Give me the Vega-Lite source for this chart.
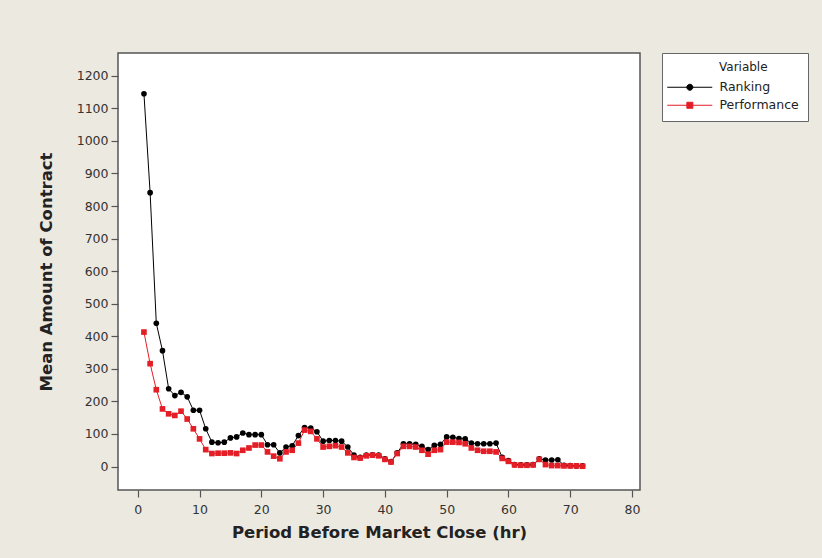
{
  "$schema": "https://vega.github.io/schema/vega-lite/v6.json",
  "width": 522,
  "height": 437,
  "autosize": {"type": "none"},
  "padding": {"left": 118, "top": 53, "right": 182, "bottom": 68},
  "background": "#ECE9E0",
  "config": {
    "view": {"fill": "white", "stroke": "#555555", "strokeWidth": 1.5},
    "axis": {
      "grid": false,
      "domain": false,
      "tickColor": "#555555",
      "tickSize": 7,
      "tickWidth": 1.2,
      "labelFont": "DejaVu Sans",
      "labelFontSize": 12.5,
      "labelColor": "#333333",
      "titleFont": "DejaVu Sans",
      "titleFontSize": 16.5,
      "titleFontWeight": "bold",
      "titleColor": "#222222"
    }
  },
  "data": {"values": [
    {"hour":1,"variable":"Ranking","amount":1145},{"hour":2,"variable":"Ranking","amount":841},{"hour":3,"variable":"Ranking","amount":440},{"hour":4,"variable":"Ranking","amount":356},{"hour":5,"variable":"Ranking","amount":239},{"hour":6,"variable":"Ranking","amount":218},{"hour":7,"variable":"Ranking","amount":228},{"hour":8,"variable":"Ranking","amount":214},{"hour":9,"variable":"Ranking","amount":173},{"hour":10,"variable":"Ranking","amount":173},
    {"hour":11,"variable":"Ranking","amount":116},{"hour":12,"variable":"Ranking","amount":75},{"hour":13,"variable":"Ranking","amount":73},{"hour":14,"variable":"Ranking","amount":75},{"hour":15,"variable":"Ranking","amount":88},{"hour":16,"variable":"Ranking","amount":91},{"hour":17,"variable":"Ranking","amount":103},{"hour":18,"variable":"Ranking","amount":98},{"hour":19,"variable":"Ranking","amount":98},{"hour":20,"variable":"Ranking","amount":98},
    {"hour":21,"variable":"Ranking","amount":67},{"hour":22,"variable":"Ranking","amount":67},{"hour":23,"variable":"Ranking","amount":42},{"hour":24,"variable":"Ranking","amount":60},{"hour":25,"variable":"Ranking","amount":64},{"hour":26,"variable":"Ranking","amount":95},{"hour":27,"variable":"Ranking","amount":120},{"hour":28,"variable":"Ranking","amount":118},{"hour":29,"variable":"Ranking","amount":107},{"hour":30,"variable":"Ranking","amount":78},
    {"hour":31,"variable":"Ranking","amount":80},{"hour":32,"variable":"Ranking","amount":80},{"hour":33,"variable":"Ranking","amount":78},{"hour":34,"variable":"Ranking","amount":60},{"hour":35,"variable":"Ranking","amount":35},{"hour":36,"variable":"Ranking","amount":28},{"hour":37,"variable":"Ranking","amount":35},{"hour":38,"variable":"Ranking","amount":36},{"hour":39,"variable":"Ranking","amount":35},{"hour":40,"variable":"Ranking","amount":24},
    {"hour":41,"variable":"Ranking","amount":15},{"hour":42,"variable":"Ranking","amount":42},{"hour":43,"variable":"Ranking","amount":70},{"hour":44,"variable":"Ranking","amount":70},{"hour":45,"variable":"Ranking","amount":68},{"hour":46,"variable":"Ranking","amount":62},{"hour":47,"variable":"Ranking","amount":52},{"hour":48,"variable":"Ranking","amount":65},{"hour":49,"variable":"Ranking","amount":68},{"hour":50,"variable":"Ranking","amount":91},
    {"hour":51,"variable":"Ranking","amount":90},{"hour":52,"variable":"Ranking","amount":86},{"hour":53,"variable":"Ranking","amount":85},{"hour":54,"variable":"Ranking","amount":72},{"hour":55,"variable":"Ranking","amount":70},{"hour":56,"variable":"Ranking","amount":70},{"hour":57,"variable":"Ranking","amount":70},{"hour":58,"variable":"Ranking","amount":72},{"hour":59,"variable":"Ranking","amount":28},{"hour":60,"variable":"Ranking","amount":18},
    {"hour":61,"variable":"Ranking","amount":6},{"hour":62,"variable":"Ranking","amount":5},{"hour":63,"variable":"Ranking","amount":5},{"hour":64,"variable":"Ranking","amount":6},{"hour":65,"variable":"Ranking","amount":24},{"hour":66,"variable":"Ranking","amount":20},{"hour":67,"variable":"Ranking","amount":20},{"hour":68,"variable":"Ranking","amount":21},{"hour":69,"variable":"Ranking","amount":4},{"hour":70,"variable":"Ranking","amount":3},
    {"hour":71,"variable":"Ranking","amount":2},{"hour":72,"variable":"Ranking","amount":2},
    {"hour":1,"variable":"Performance","amount":413},{"hour":2,"variable":"Performance","amount":316},{"hour":3,"variable":"Performance","amount":236},{"hour":4,"variable":"Performance","amount":177},{"hour":5,"variable":"Performance","amount":162},{"hour":6,"variable":"Performance","amount":157},{"hour":7,"variable":"Performance","amount":170},{"hour":8,"variable":"Performance","amount":146},{"hour":9,"variable":"Performance","amount":116},{"hour":10,"variable":"Performance","amount":85},
    {"hour":11,"variable":"Performance","amount":52},{"hour":12,"variable":"Performance","amount":40},{"hour":13,"variable":"Performance","amount":41},{"hour":14,"variable":"Performance","amount":41},{"hour":15,"variable":"Performance","amount":42},{"hour":16,"variable":"Performance","amount":40},{"hour":17,"variable":"Performance","amount":50},{"hour":18,"variable":"Performance","amount":57},{"hour":19,"variable":"Performance","amount":66},{"hour":20,"variable":"Performance","amount":66},
    {"hour":21,"variable":"Performance","amount":45},{"hour":22,"variable":"Performance","amount":32},{"hour":23,"variable":"Performance","amount":24},{"hour":24,"variable":"Performance","amount":45},{"hour":25,"variable":"Performance","amount":50},{"hour":26,"variable":"Performance","amount":72},{"hour":27,"variable":"Performance","amount":112},{"hour":28,"variable":"Performance","amount":108},{"hour":29,"variable":"Performance","amount":85},{"hour":30,"variable":"Performance","amount":60},
    {"hour":31,"variable":"Performance","amount":62},{"hour":32,"variable":"Performance","amount":64},{"hour":33,"variable":"Performance","amount":60},{"hour":34,"variable":"Performance","amount":42},{"hour":35,"variable":"Performance","amount":28},{"hour":36,"variable":"Performance","amount":26},{"hour":37,"variable":"Performance","amount":33},{"hour":38,"variable":"Performance","amount":35},{"hour":39,"variable":"Performance","amount":33},{"hour":40,"variable":"Performance","amount":22},
    {"hour":41,"variable":"Performance","amount":14},{"hour":42,"variable":"Performance","amount":40},{"hour":43,"variable":"Performance","amount":62},{"hour":44,"variable":"Performance","amount":62},{"hour":45,"variable":"Performance","amount":60},{"hour":46,"variable":"Performance","amount":50},{"hour":47,"variable":"Performance","amount":38},{"hour":48,"variable":"Performance","amount":50},{"hour":49,"variable":"Performance","amount":52},{"hour":50,"variable":"Performance","amount":75},
    {"hour":51,"variable":"Performance","amount":75},{"hour":52,"variable":"Performance","amount":74},{"hour":53,"variable":"Performance","amount":70},{"hour":54,"variable":"Performance","amount":57},{"hour":55,"variable":"Performance","amount":50},{"hour":56,"variable":"Performance","amount":47},{"hour":57,"variable":"Performance","amount":47},{"hour":58,"variable":"Performance","amount":45},{"hour":59,"variable":"Performance","amount":25},{"hour":60,"variable":"Performance","amount":16},
    {"hour":61,"variable":"Performance","amount":5},{"hour":62,"variable":"Performance","amount":4},{"hour":63,"variable":"Performance","amount":4},{"hour":64,"variable":"Performance","amount":5},{"hour":65,"variable":"Performance","amount":22},{"hour":66,"variable":"Performance","amount":6},{"hour":67,"variable":"Performance","amount":3},{"hour":68,"variable":"Performance","amount":3},{"hour":69,"variable":"Performance","amount":2},{"hour":70,"variable":"Performance","amount":2},
    {"hour":71,"variable":"Performance","amount":2},{"hour":72,"variable":"Performance","amount":1}
  ]},
  "encoding": {
    "x": {"field": "hour", "type": "quantitative",
      "scale": {"domain": [-3.2, 81.3], "nice": false, "zero": false},
      "axis": {"values": [0,10,20,30,40,50,60,70,80], "labelPadding": 6, "title": "Period Before Market Close (hr)", "titlePadding": 9}},
    "y": {"field": "amount", "type": "quantitative",
      "scale": {"domain": [-72, 1270], "nice": false, "zero": false},
      "axis": {"values": [0,100,200,300,400,500,600,700,800,900,1000,1100,1200], "format": "d", "labelPadding": 3, "title": "Mean Amount of Contract", "titlePadding": 22}},
    "color": {"field": "variable", "type": "nominal",
      "scale": {"domain": ["Ranking", "Performance"], "range": ["#000000", "#E41E26"]},
      "legend": {
        "orient": "none", "legendX": 544, "legendY": 0,
        "title": "Variable", "titleFont": "DejaVu Sans", "titleFontSize": 12, "titleFontWeight": "normal", "titleColor": "#222222", "titlePadding": 7,
        "labelFont": "DejaVu Sans", "labelFontSize": 12.5, "labelColor": "#222222", "labelOffset": 36,
        "symbolSize": 64, "symbolStrokeWidth": 1, "rowPadding": 5,
        "padding": 9, "fillColor": "white", "strokeColor": "#666666",
        "encode": {
          "title": {"update": {"dx": {"value": 48}}},
          "symbols": {"update": {
            "shape": {"signal": "datum.value === 'Ranking' ? 'M-2.5,0H8.75M2.4,0A0.75,0.75,0,1,1,3.9,0A0.75,0.75,0,1,1,2.4,0Z' : 'M-2.5,0H8.75M2.4,-0.75H3.9V0.75H2.4Z'"},
            "strokeWidth": {"value": 1}
          }}
        }
      }},
    "order": {"field": "hour", "type": "quantitative"}
  },
  "layer": [
    {"mark": {"type": "line", "strokeWidth": 1}},
    {"transform": [{"filter": "datum.variable === 'Ranking'"}],
     "mark": {"type": "point", "shape": "circle", "filled": true, "opacity": 1, "size": 32}},
    {"transform": [{"filter": "datum.variable === 'Performance'"}],
     "mark": {"type": "point", "shape": "square", "filled": true, "opacity": 1, "size": 32}}
  ]
}
